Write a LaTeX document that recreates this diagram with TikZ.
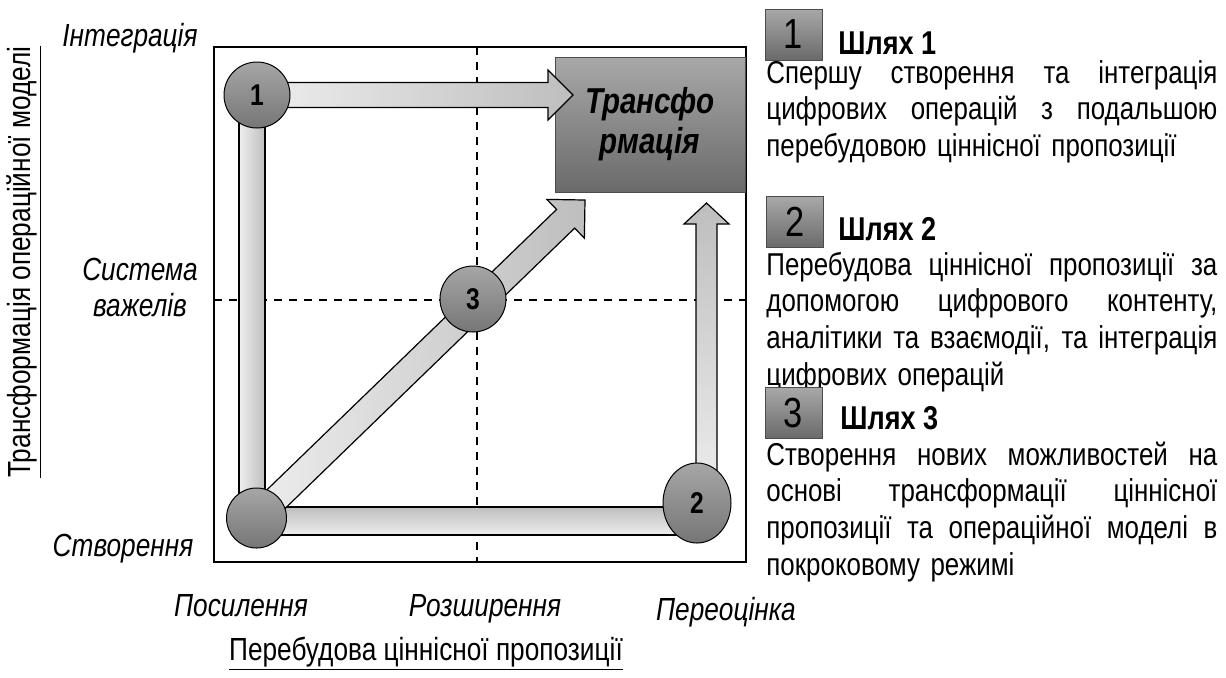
\documentclass[tikz,border=0pt]{standalone}
\usepackage{fontspec}
\setmainfont{Liberation Sans}[FakeStretch=0.82]
\usetikzlibrary{calc,positioning,shapes.geometric}
\definecolor{stagetop}{HTML}{A6A6A6}
\definecolor{stagebot}{HTML}{767676}
\definecolor{boxtop}{HTML}{A8A8A8}
\definecolor{boxbot}{HTML}{6A6A6A}
\definecolor{barlight}{HTML}{EEEEEE}
\definecolor{bardark}{HTML}{BEBEBE}
\newcommand\jline[1]{\makebox[225.5pt][s]{\spaceskip=0.25em plus 1fil\relax #1}}

\begin{document}
\begin{tikzpicture}[x=0.5pt, y=-0.5pt, font=\fontsize{15.8}{18.35}\selectfont]
  \tikzstyle{lbl}=[font=\fontsize{16}{18}\selectfont\itshape, align=center, inner sep=0pt]
  \tikzstyle{stage}=[circle, draw=black, line width=0.5pt, top color=stagetop, bottom color=stagebot, font=\fontsize{15}{18}\selectfont\bfseries, inner sep=0pt]
  \tikzstyle{bar}=[draw=black, line width=0.6pt]
  \tikzstyle{numbox}=[draw=black!70, line width=0.5pt, top color=boxtop, bottom color=boxbot, minimum width=28.5pt, minimum height=25.5pt, inner sep=0pt, font=\fontsize{21}{24}\selectfont]
  \tikzstyle{head}=[font=\fontsize{16.5}{18}\selectfont\bfseries, inner sep=0pt, anchor=base west]
  \tikzstyle{para}=[text width=225.5pt, inner sep=0pt, align=left, anchor=base west]
  \useasboundingbox (0,0) rectangle (1226,677);

  % axes frame and quadrants
  \draw[line width=1.2pt] (214,47) rectangle (746,562);
  \draw[dashed, dash pattern=on 4pt off 3.5pt, line width=0.9pt] (477,47) -- (477,562);
  \draw[dashed, dash pattern=on 4pt off 3.5pt, line width=0.9pt] (214,300) -- (746,300);

  % axis labels
  \node[lbl, anchor=base] (integ) at (130,46) {Інтеграція};
  \node[lbl] (levers) at (140,287) {Система\\важелів};
  \node[lbl, anchor=base] (create) at (123,556) {Створення};
  \node[lbl, anchor=base] (amplif) at (241,616) {Посилення};
  \node[lbl, anchor=base] (extend) at (485,616) {Розширення};
  \node[lbl, anchor=base] (reval) at (726,620) {Переоцінка};
  \node[rotate=90, inner sep=0pt, font=\fontsize{16}{18}\selectfont] (yaxis) at (24,262) {\underline{Трансформація операційної моделі}};
  \node[inner sep=0pt, font=\fontsize{16}{18}\selectfont, anchor=base] (xaxis) at (426,660) {\underline{Перебудова ціннісної пропозиції}};

  % target
  \node[draw=black!70, line width=0.5pt, top color=boxtop, bottom color=boxbot, minimum width=95pt, minimum height=67.5pt, align=center, font=\fontsize{18}{20}\selectfont\bfseries\itshape] (trans) at (650,124.5) {Трансфо\\рмація};

  % stages
  \coordinate (tipA) at (573,95);
  \coordinate (tipB) at (706.5,203);
  \coordinate (tipC) at (585,200);
  \path (257,95) coordinate (p1) (256.5,518) coordinate (p0) (697,503) coordinate (p2) (473,299) coordinate (p3);

  % path 1
  \path[bar, left color=barlight, right color=bardark] ($(p0)+(-17.5,0)$) rectangle ($(p1)+(8,0)$);
  \path[bar, left color=barlight, right color=bardark] ($(p1)+(0,-12.5)$) -- ($(tipA)+(-25,-12.5)$) -- ($(tipA)+(-25,-25)$) -- (tipA) -- ($(tipA)+(-25,25)$) -- ($(tipA)+(-25,12.5)$) -- ($(p1)+(0,12.5)$) -- cycle;
  % path 2
  \path[bar, top color=bardark, bottom color=barlight] ($(p0)+(0,-11)$) rectangle ($(p2)+(0,32)$);
  \path[bar, top color=bardark, bottom color=barlight] ($(tipB |- p2)+(-10.5,0)$) -- ($(tipB)+(-10.5,21)$) -- ($(tipB)+(-22.5,21)$) -- (tipB) -- ($(tipB)+(22.5,21)$) -- ($(tipB)+(10.5,21)$) -- ($(tipB |- p2)+(10.5,0)$) -- cycle;
  % path 3
  \coordinate (hb) at ($(tipC)!13.5pt!(p0)$);
  \path[bar, left color=barlight, right color=bardark] ($(p0)!6.5pt!90:(tipC)$) -- ($(hb)!6.5pt!90:(tipC)$) -- ($(hb)!13.5pt!90:(tipC)$) -- (tipC) -- ($(hb)!13.5pt!-90:(tipC)$) -- ($(hb)!6.5pt!-90:(tipC)$) -- ($(p0)!6.5pt!-90:(tipC)$) -- cycle;

  \node[stage, minimum size=33pt] (s1) at (p1) {1};
  \node[stage, minimum size=30pt] (s0) at (p0) {};
  \node[stage, ellipse, minimum width=34pt, minimum height=40pt] (s2) at (p2) {2};
  \node[stage, minimum size=33pt] (s3) at (p3) {3};

  % legend
  \node[numbox] (n1) at (793.5,34.5) {1};
  \node[head] (h1) at (838,54) {Шлях 1};
  \node[para] (t1) at (766,83) {\jline{Спершу створення та інтеграція}\\\jline{цифрових операцій з подальшою}\\перебудовою ціннісної пропозиції};

  \node[numbox] (n2) at (795,222) {2};
  \node[head] (h2) at (838,240) {Шлях 2};
  \node[para] (t2) at (766,275) {\jline{Перебудова ціннісної пропозиції за}\\\jline{допомогою цифрового контенту,}\\\jline{аналітики та взаємодії, та інтеграція}\\цифрових операцій};

  \node[numbox] (n3) at (793.5,413) {3};
  \node[head] (h3) at (840,429) {Шлях 3};
  \node[para] (t3) at (766,465) {\jline{Створення нових можливостей на}\\\jline{основі трансформації ціннісної}\\\jline{пропозиції та операційної моделі в}\\покроковому режимі};
\end{tikzpicture}
\end{document}
